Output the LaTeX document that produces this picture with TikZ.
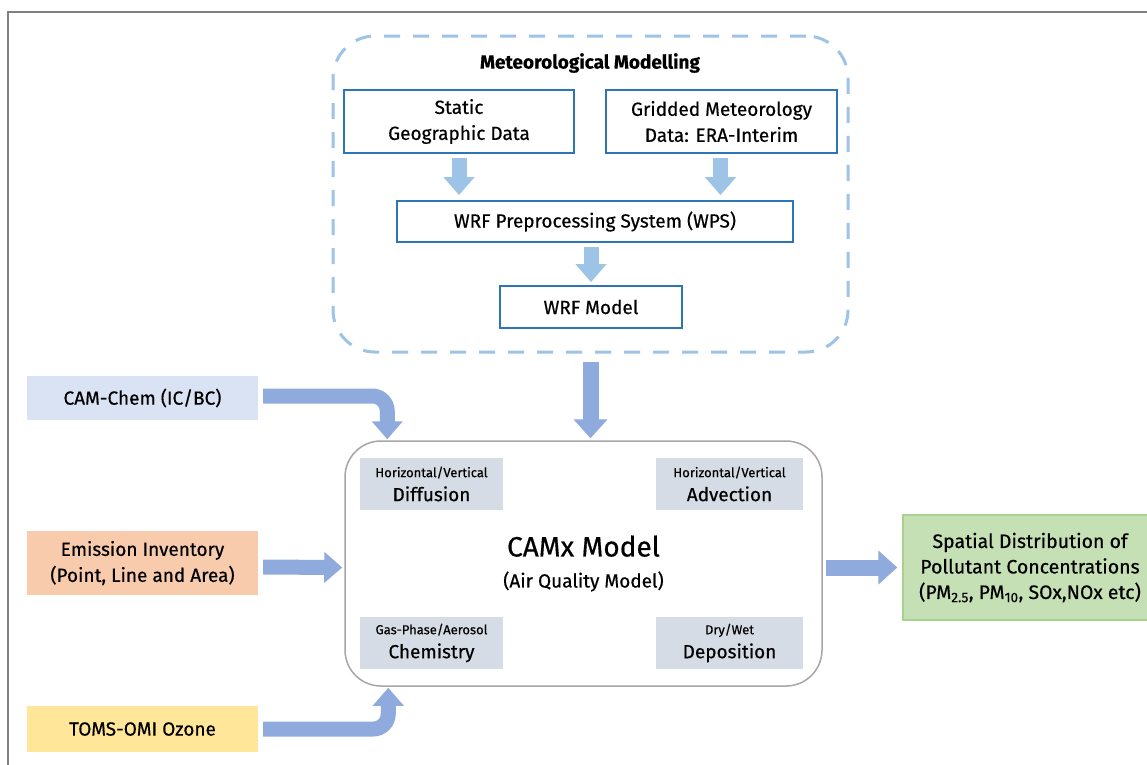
\documentclass[tikz,border=0pt]{standalone}
\usepackage{fontspec}
\setmainfont{Fira Sans}[FakeBold=0.5]
\usepackage{tikz}
\usetikzlibrary{arrows.meta, positioning}
\definecolor{metblue}{RGB}{46,117,182}
\definecolor{metarrow}{RGB}{157,195,230}
\definecolor{camxarrow}{RGB}{143,170,220}
\definecolor{camchemfill}{RGB}{218,227,243}
\definecolor{emisfill}{RGB}{248,203,173}
\definecolor{tomsfill}{RGB}{255,230,153}
\definecolor{outfill}{RGB}{197,224,180}
\definecolor{outdraw}{RGB}{169,209,142}
\definecolor{procfill}{RGB}{214,220,229}

\begin{document}
\begin{tikzpicture}[x=1pt, y=-1pt,
  wrfbox/.style={draw=metblue, line width=1.8pt, fill=white, align=center, inner sep=0pt, font=\fontsize{19}{26}\selectfont},
  inbox/.style={fill=#1, align=center, minimum width=231pt, inner sep=0pt, font=\fontsize{19}{26}\selectfont},
  procbox/.style={fill=procfill, align=center, minimum height=52pt, inner sep=0pt, font=\fontsize{19}{24}\selectfont},
  thinarrow/.style={metarrow, line width=15pt, -{Triangle[length=18pt, width=30pt]}},
  fatarrow/.style={camxarrow, line width=16pt, -{Triangle[length=19pt, width=33pt]}},
]
\useasboundingbox (0,0) rectangle (1147,764);
\clip (0,0) rectangle (1147,764);
\fill[white] (0,0) rectangle (1147,764);
\draw[gray, line width=2pt] (8,12) rectangle (1200,800);

% meteorological modelling
\node[draw=metarrow, line width=3pt, dash pattern=on 16pt off 13pt, rounded corners=42pt,
  minimum width=515pt, minimum height=316pt] (meteo) at (590.5,194) {};
\node[font=\fontsize{19}{20}\selectfont\bfseries] (mettitle) at (590,63) {Meteorological Modelling};
\node[wrfbox, minimum width=230pt, minimum height=63pt] (static) at (459,121.5) {Static\\Geographic Data};
\node[wrfbox, minimum width=231pt, minimum height=63pt] (grid) at (721.5,121.5) {Gridded Meteorology\\Data: ERA-Interim};
\node[wrfbox, minimum width=396pt, minimum height=41pt] (wps) at (595,221.5) {WRF Preprocessing System (WPS)};
\node[wrfbox, minimum width=182pt, minimum height=42pt] (wrf) at (591,307) {WRF Model};

\draw[thinarrow, shorten <=4pt, shorten >=5pt] (static.south) -- (static.south |- wps.north);
\draw[thinarrow, shorten <=4pt, shorten >=5pt] ([xshift=-1pt]grid.south) -- ([xshift=-1pt]grid.south |- wps.north);
\draw[thinarrow, shorten <=4pt, shorten >=3pt] (wps.south -| wrf.north) -- (wrf.north);

% CAMx model
\node[draw=gray!70, line width=1.5pt, rounded corners=36pt, fill=white,
  minimum width=477pt, minimum height=245pt, align=center, font=\fontsize{19}{22}\selectfont] (camx) at (583.5,563.5)
  {{\fontsize{28}{32}\selectfont CAMx Model}\\[9pt](Air Quality Model)};
\node[procbox, minimum width=143pt] (diff) at (431.5,484) {{\fontsize{13}{14}\selectfont Horizontal/Vertical}\\Diffusion};
\node[procbox, minimum width=147pt] (adv) at (729.5,484) {{\fontsize{13}{14}\selectfont Horizontal/Vertical}\\Advection};
\node[procbox, minimum width=143pt] (chem) at (431.5,643) {{\fontsize{13}{14}\selectfont Gas-Phase/Aerosol}\\Chemistry};
\node[procbox, minimum width=147pt] (dep) at (729.5,643) {{\fontsize{13}{14}\selectfont Dry/Wet}\\Deposition};

% inputs
\node[inbox=camchemfill, minimum height=44pt] (camchem) at (142.5,398) {CAM-Chem (IC/BC)};
\node[inbox=emisfill, minimum height=64pt] (emis) at (142.5,563) {Emission Inventory\\(Point, Line and Area)};
\node[inbox=tomsfill, minimum height=46pt] (toms) at (142.5,729) {TOMS-OMI Ozone};

% output
\node[fill=outfill, draw=outdraw, line width=1.5pt, minimum width=254pt, minimum height=105pt,
  align=center, inner sep=0pt, font=\fontsize{19.5}{25.5}\selectfont] (out) at (1030,567.5)
  {Spatial Distribution of\\Pollutant Concentrations\\(PM\textsubscript{2.5}, PM\textsubscript{10}, SOx,NOx etc)};

\draw[fatarrow, shorten <=8pt, shorten >=2pt] (meteo.south) -- (meteo.south |- camx.north);
\draw[thinarrow, camxarrow, rounded corners=15pt, shorten >=1pt]
  ([xshift=5pt,yshift=2pt]camchem.east) -| ([xshift=43pt]camx.north west);
\draw[thinarrow, camxarrow, shorten <=5pt, shorten >=2pt] ([yshift=-4pt]emis.east) -- ([yshift=-4pt]camx.west);
\draw[thinarrow, camxarrow, rounded corners=15pt, shorten >=1pt]
  ([xshift=5pt]toms.east) -| ([xshift=44pt]camx.south west);
\draw[fatarrow, shorten <=3pt, shorten >=5pt] ([yshift=-4pt]camx.east) -- ([yshift=-4pt]camx.east -| out.west);
\end{tikzpicture}
\end{document}
